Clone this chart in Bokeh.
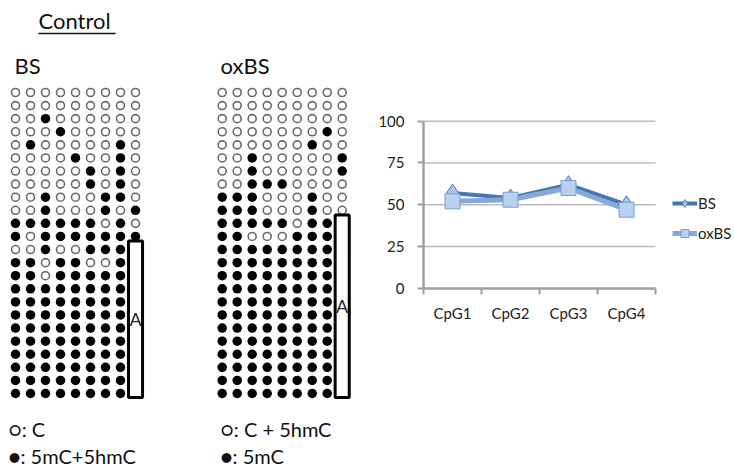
from bokeh.plotting import figure
from bokeh.models import (Range1d, FixedTicker, Legend, LegendItem, LinearAxis,
                          CustomJSTickFormatter)
from bokeh.embed import file_html
from bokeh.resources import INLINE
from bokeh.core.properties import value

# ---------------- data ----------------
# methylation patterns: 1 = filled (methylated), 0 = open
bs_rows = [
    "000000000", "000000000", "001000000", "000100000", "010000010",
    "000010010", "000001010", "000001010", "001000110", "001000101",
    "111111010", "101111111", "001001111", "110110011", "110111111",
    "111111111", "111111111", "111111111", "111111111", "111111111",
    "111111111", "111111111", "111111111", "111111111",
]
oxbs_rows = [
    "000000000", "000000000", "000000000", "000000010", "000000100",
    "001000001", "001000001", "001110000", "111000100", "111000100",
    "111110111", "110001111", "111111111", "111111111", "111111111",
    "111111111", "111111111", "111111111", "111111111", "111111111",
    "111111111", "111111111", "111111111", "111111111",
]
cpg_labels = ["CpG1", "CpG2", "CpG3", "CpG4"]
bs_values = [57, 54, 62, 50]
oxbs_values = [52, 53, 60, 47]
y_ticks = [0, 25, 50, 75, 100]

FONT_STR = "Lato, 'Liberation Sans', sans-serif"
FONT = value(FONT_STR)

W, H = 734, 469
COL_PX, ROW_PX = 15.0, 13.087
X0, Y0 = 0.0, 1 - 92 / 13.087

p = figure(width=W, height=H, x_range=Range1d(X0, X0 + W / COL_PX),
           y_range=Range1d(Y0 + H / ROW_PX, Y0), x_axis_type=None, y_axis_type=None,
           output_backend="svg", toolbar_location=None, min_border=0)
p.grid.visible = False
p.outline_line_color = None

# ---------------- dot matrices ----------------
OX_OFFSET = 13.78

def dots(rows, offset):
    ox, oy, fx, fy = [], [], [], []
    for r, line in enumerate(rows):
        for c, ch in enumerate(line):
            x = c + 1 + offset
            y = r + 1
            if ch == "1":
                fx.append(x); fy.append(y)
            else:
                ox.append(x); oy.append(y)
    return ox, oy, fx, fy

for rows, off in ((bs_rows, 0.0), (oxbs_rows, OX_OFFSET)):
    ox, oy, fx, fy = dots(rows, off)
    p.scatter(ox, oy, marker="circle", size=8, fill_color="white",
              line_color="#6a6a6a", line_width=1.6)
    p.scatter(fx, fy, marker="circle", size=9.5, fill_color="black", line_color=None)

box_x = [9, 9 + OX_OFFSET]
box_top = [12.35, 10.36]
box_bottom = [24.3, 24.3]
p.quad(left=[x - 0.47 for x in box_x], right=[x + 0.47 for x in box_x],
       top=box_top, bottom=box_bottom, fill_color="white",
       line_color="black", line_width=3)
p.text(x=box_x, y=[(t + b) / 2 for t, b in zip(box_top, box_bottom)],
       text=["A", "A"], text_align="center", text_baseline="middle",
       text_font=FONT, text_font_size="18px", text_color="#222222")

p.text(x=[2.533], y=[-4.502], text=["Control"], text_font=FONT,
       text_font_size="22px", text_color="#111111", text_baseline="alphabetic")
p.segment(x0=[2.533], y0=[-3.508], x1=[7.667], y1=[-3.508], line_color="#111111",
          line_width=1.5)
p.text(x=[0.933, 14.67], y=[-1.063, -1.063], text=["BS", "oxBS"], text_font=FONT,
       text_font_size="22px", text_color="#111111", text_baseline="alphabetic")

p.text(x=[0.533, 14.67], y=[26.75, 26.75], text=["\u25cb: C", "\u25cb: C + 5hmC"],
       text_font=FONT, text_font_size="20px", text_color="#111111",
       text_baseline="alphabetic")
p.text(x=[0.533, 14.67], y=[28.81, 28.81], text=["\u25cf: 5mC+5hmC", "\u25cf: 5mC"],
       text_font=FONT, text_font_size="20px", text_color="#111111",
       text_baseline="alphabetic")

# ---------------- line chart (own scales) ----------------
CL, CR, CT, CB = 423.0, 655.0, 120.7, 287.7
ncat = len(cpg_labels)
xu = (CR - CL) / ncat
yu = (CB - CT) / 100.0
p.extra_x_ranges = {"cpg": Range1d(-CL / xu, (W - CL) / xu)}
p.extra_y_ranges = {"pct": Range1d(-(H - CB) / yu, CB / yu)}

gy = [t for t in y_ticks if t > 0]
p.segment(x0=[0] * len(gy), x1=[ncat] * len(gy), y0=gy, y1=gy,
          line_color="#bcbcbc", line_width=1.5, x_range_name="cpg", y_range_name="pct")

yaxis = LinearAxis(x_range_name="cpg", y_range_name="pct", fixed_location=0,
                   bounds=(0, 100), ticker=FixedTicker(ticks=y_ticks))
yaxis.axis_line_color = "#a0a0a0"
yaxis.axis_line_width = 2.5
yaxis.major_tick_out = 6
yaxis.major_tick_in = 0
yaxis.major_tick_line_color = "#a0a0a0"
yaxis.major_tick_line_width = 2
yaxis.minor_tick_line_color = None
yaxis.major_label_standoff = 13
yaxis.major_label_text_font = FONT_STR
yaxis.major_label_text_font_size = "15px"
yaxis.major_label_text_color = "#222222"
p.add_layout(yaxis, "left")

xc = [i + 0.5 for i in range(ncat)]
xaxis = LinearAxis(x_range_name="cpg", y_range_name="pct", fixed_location=0,
                   bounds=(0, ncat),
                   ticker=FixedTicker(ticks=xc, minor_ticks=list(range(ncat + 1))))
xaxis.formatter = CustomJSTickFormatter(args=dict(labels=cpg_labels),
                                        code="return labels[Math.floor(tick)] || '';")
xaxis.axis_line_color = "#a0a0a0"
xaxis.axis_line_width = 2.5
xaxis.major_tick_line_color = None
xaxis.major_tick_out = 0
xaxis.major_tick_in = 0
xaxis.minor_tick_out = 6
xaxis.minor_tick_in = 0
xaxis.minor_tick_line_color = "#a0a0a0"
xaxis.minor_tick_line_width = 2
xaxis.major_label_standoff = 10
xaxis.major_label_text_font = FONT_STR
xaxis.major_label_text_font_size = "15px"
xaxis.major_label_text_color = "#222222"
p.add_layout(xaxis, "below")

l1 = p.line(xc, bs_values, line_color="#4475b4", line_width=4,
            x_range_name="cpg", y_range_name="pct")
m1 = p.scatter(xc, bs_values, marker="diamond", size=18, fill_color="#a8c4ea",
               line_color="#4a7ebb", line_width=1, x_range_name="cpg", y_range_name="pct")
l2 = p.line(xc, oxbs_values, line_color="#87a9d8", line_width=5,
            x_range_name="cpg", y_range_name="pct")
m2 = p.scatter(xc, oxbs_values, marker="square", size=15, fill_color="#b9d1f0",
               line_color="#7b9dcc", line_width=1, x_range_name="cpg", y_range_name="pct")

legend = Legend(items=[LegendItem(label="BS", renderers=[l1, m1]),
                       LegendItem(label="oxBS", renderers=[l2, m2])],
                location=(672, 226), border_line_color=None, background_fill_alpha=0,
                padding=0, margin=0, spacing=10, glyph_width=25, glyph_height=20,
                label_standoff=1, label_text_font=FONT_STR, label_text_font_size="15px",
                label_text_color="#222222")
p.add_layout(legend)

open("out.html", "w").write(file_html(p, INLINE))
